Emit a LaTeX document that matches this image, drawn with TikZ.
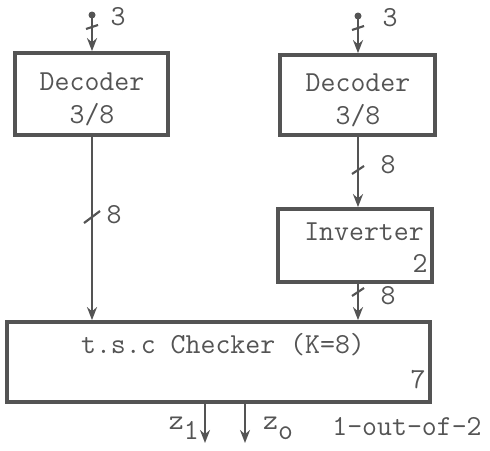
\documentclass[tikz,border=0pt]{standalone}
\usepackage{fontspec}
\usetikzlibrary{arrows.meta}
\definecolor{ink}{gray}{0.33}
\tikzset{
  blockbox/.style={draw=ink, line width=3.8pt, inner sep=0pt},
  wire/.style={draw=ink, line width=2.3pt, -{Stealth[length=13pt,width=10pt]}},
  tick/.style={draw=ink, line width=2.2pt},
  lbl/.style={text=ink, inner sep=0pt, font=\ttfamily\fontsize{29}{33}\selectfont}
}
\begin{document}
\begin{tikzpicture}[x=1pt,y=-1pt]
  \useasboundingbox (0,0) rectangle (490,450);

  % Blocks
  \node[blockbox, minimum width=153pt, minimum height=82pt] (decA) at (91.5,94) {};
  \node[lbl, align=center] (decAtxt) at (92,99) {Decoder\\3/8};
  \node[blockbox, minimum width=155pt, minimum height=80pt] (decB) at (357.5,95) {};
  \node[lbl, align=center] (decBtxt) at (358,100) {Decoder\\3/8};
  \node[blockbox, minimum width=154pt, minimum height=73pt] (inv) at (355,245.5) {};
  \node[lbl] (invtxt) at (364,232) {Inverter};
  \node[lbl] (invno) at (420,263) {2};
  \node[blockbox, minimum width=423pt, minimum height=80pt] (chk) at (218.5,362) {};
  \node[lbl] (chktxt) at (223,345) {t.s.c Checker (K=8)};
  \node[lbl] (chkno) at (418,380) {7};

  % Inputs
  \coordinate (inA) at (92,15);
  \coordinate (inB) at (358,16);
  \fill[ink] (inA) circle (3.5pt);
  \fill[ink] (inB) circle (3.5pt);
  \draw[wire] (inA) -- (decA.north -| inA);
  \draw[wire] (inB) -- (decB.north -| inB);
  \draw[tick] (86,29) -- (98,25);
  \draw[tick] (352,30) -- (364,26);
  \node[lbl] (nA) at (118,17) {3};
  \node[lbl] (nB) at (390,18) {3};

  % Buses
  \draw[wire] (decA.south -| inA) -- (chk.north -| inA);
  \draw[tick] (84,223) -- (100,211);
  \node[lbl] (nC) at (114,215) {8};
  \draw[wire] (decB.south -| inB) -- (inv.north -| inB);
  \draw[tick] (352,174) -- (364,166);
  \node[lbl] (nD) at (388,165) {8};
  \draw[wire] (inv.south -| inB) -- (chk.north -| inB);
  \draw[tick] (352,296) -- (364,288);
  \node[lbl] (nE) at (388,296) {8};

  % Outputs
  \coordinate (zA) at (205,443);
  \coordinate (zB) at (245,443);
  \draw[wire] (chk.south -| zA) -- (zA);
  \draw[wire] (chk.south -| zB) -- (zB);
  \node[lbl, anchor=east] (zAl) at (199,428) {z\raisebox{-10pt}{1}};
  \node[lbl, anchor=west] (zBl) at (263,428) {z\raisebox{-10pt}{o}};
  \node[lbl] (code) at (407,427) {1-out-of-2};
\end{tikzpicture}
\end{document}
